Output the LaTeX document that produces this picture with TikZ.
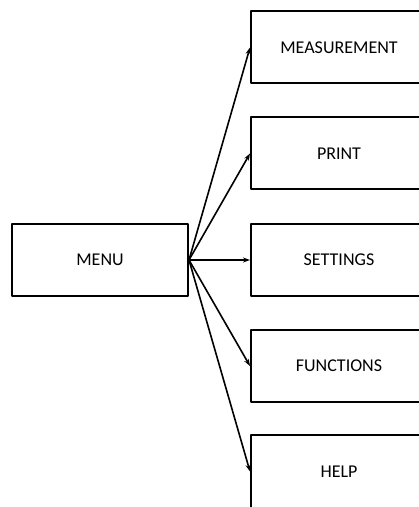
\documentclass[tikz,border=0pt]{standalone}
\usepackage{fontspec}
\setmainfont{Carlito}
\usetikzlibrary{arrows.meta}
\tikzset{
  every picture/.style={line join=round, line cap=round, >=Stealth},
  menubox/.style={draw, line width=2pt, minimum width=176pt, minimum height=72pt, inner sep=0pt, font=\fontsize{18}{21}\selectfont},
  link/.style={-{Stealth[length=7pt,width=5pt]}, line width=1.6pt},
}

\begin{document}
\begin{tikzpicture}[x=1pt,y=1pt]
\useasboundingbox (0,0) rectangle (419,507);
\clip (0,0) rectangle (419,507);
\node[menubox] (menu) at (100,247) {MENU};
\node[menubox] (meas) at (339,459.5) {MEASUREMENT};
\node[menubox] (print) at (339,353.5) {PRINT};
\node[menubox] (set) at (339,247) {SETTINGS};
\node[menubox] (func) at (339,141) {FUNCTIONS};
\node[menubox] (help) at (339,35.5) {HELP};
\foreach \n in {meas,print,set,func,help}
  \draw[link] (menu.east) -- (\n.west);
\end{tikzpicture}
\end{document}
